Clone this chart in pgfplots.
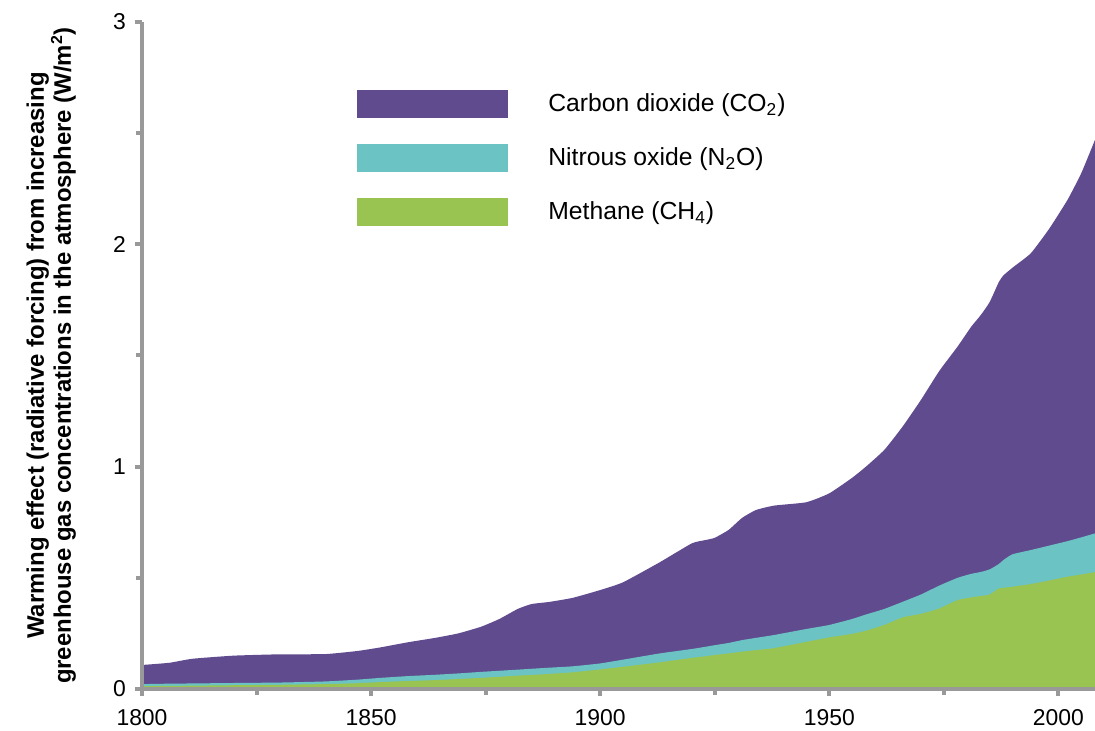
\documentclass[border=0pt]{standalone}
\usepackage{pgfplots}
\usepackage{pgfplotstable}
\pgfplotsset{compat=1.18}
\usepackage{fontspec}
\setmainfont{Liberation Sans}

\definecolor{co2}{HTML}{604B8E}
\definecolor{n2o}{HTML}{6BC3C4}
\definecolor{ch4}{HTML}{9AC452}
\definecolor{axgray}{HTML}{999999}

% year, top of CO2 (total), top of N2O, top of CH4  (W/m^2, stacked)
\pgfplotstableread{
year total n2o ch4
1800 0.108 0.022 0.013
1806 0.118 0.024 0.014
1811 0.136 0.025 0.015
1820 0.150 0.027 0.017
1830 0.156 0.029 0.019
1840 0.157 0.034 0.022
1847 0.171 0.042 0.026
1852 0.187 0.050 0.031
1858 0.210 0.058 0.036
1864 0.230 0.064 0.040
1869 0.250 0.070 0.045
1874 0.280 0.077 0.050
1878 0.315 0.082 0.055
1882 0.360 0.087 0.060
1885 0.382 0.091 0.063
1889 0.392 0.096 0.068
1894 0.410 0.102 0.075
1900 0.445 0.115 0.088
1905 0.480 0.132 0.100
1913 0.570 0.160 0.120
1920 0.655 0.180 0.140
1923 0.670 0.190 0.147
1925 0.680 0.197 0.153
1928 0.715 0.207 0.160
1931 0.770 0.220 0.168
1934 0.805 0.230 0.175
1938 0.825 0.243 0.184
1945 0.840 0.270 0.212
1950 0.880 0.288 0.232
1955 0.950 0.315 0.248
1958 1.000 0.335 0.262
1962 1.075 0.360 0.288
1966 1.180 0.392 0.322
1970 1.300 0.425 0.338
1974 1.430 0.465 0.362
1978 1.540 0.500 0.400
1981 1.630 0.518 0.412
1983 1.680 0.526 0.418
1985 1.740 0.538 0.425
1987 1.830 0.562 0.452
1988 1.860 0.580 0.455
1990 1.895 0.606 0.460
1994 1.960 0.625 0.472
1998 2.070 0.645 0.488
2002 2.200 0.665 0.505
2005 2.320 0.682 0.515
2008 2.470 0.700 0.526
}\forcing

\begin{document}
\begin{tikzpicture}
\path[use as bounding box] (-71bp,-21bp) rectangle (476.5bp,344.5bp);
\begin{axis}[
    scale only axis,
    width=476.5bp, height=333.5bp,
    xmin=1800, xmax=2008,
    ymin=0, ymax=3,
    axis lines=left,
    axis line style={-, axgray, line width=2bp},
    axis on top,
    xtick={1800,1850,...,2000},
    minor xtick={1825,1875,...,1975},
    ytick={0,1,2,3},
    minor ytick={0.5,1.5,2.5},
    tick align=outside,
    major tick length=3.5bp,
    minor tick length=3bp,
    every tick/.style={axgray, line width=2bp},
    /pgf/number format/1000 sep={},
    /pgf/number format/assume math mode=true,
    ticklabel style={font=\fontsize{11.5}{13}\selectfont, text=black},
    xticklabel style={yshift=-3bp},
    yticklabel style={xshift=-1bp},
    ylabel={Warming effect (radiative forcing) from increasing\\greenhouse gas concentrations in the atmosphere (W/m\textsuperscript{2})},
    ylabel style={align=center, font=\fontsize{12}{13.5}\selectfont\bfseries,
        at={(axis description cs:-0.069,0.5)}, anchor=south, inner sep=0pt},
    legend image code/.code={\fill[#1, draw=none] (0bp,-7bp) rectangle (75.5bp,7bp);},
    legend style={draw=none, fill=none, inner sep=0pt,
        at={(axis description cs:0.2256,0.898)}, anchor=north west,
        font=\fontsize{12.4}{14}\selectfont,
        row sep=13bp, column sep=20bp,
        nodes={inner sep=0pt, anchor=west}},
    legend cell align=left,
]
\addplot[fill=co2, draw=none, smooth, tension=0.3] table[x=year, y=total] {\forcing} \closedcycle;
\addlegendentry{Carbon dioxide (CO\textsubscript{2})}
\addplot[fill=n2o, draw=none, smooth, tension=0.3] table[x=year, y=n2o] {\forcing} \closedcycle;
\addlegendentry{Nitrous oxide (N\textsubscript{2}O)}
\addplot[fill=ch4, draw=none, smooth, tension=0.3] table[x=year, y=ch4] {\forcing} \closedcycle;
\addlegendentry{Methane (CH\textsubscript{4})}
\end{axis}
\end{tikzpicture}
\end{document}
